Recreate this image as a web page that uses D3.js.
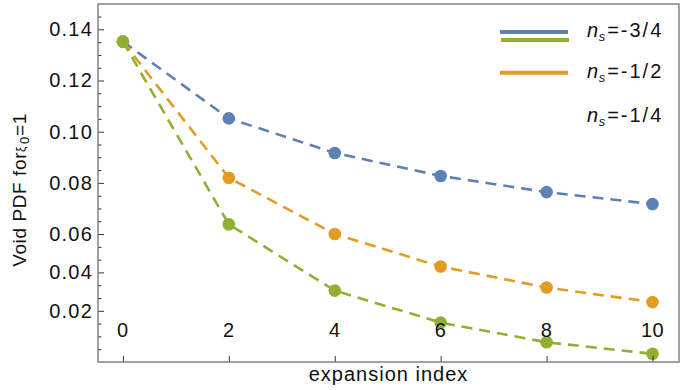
<!DOCTYPE html>
<html>
<head>
<meta charset="utf-8">
<script src="https://cdn.jsdelivr.net/npm/d3@7"></script>
<style>
  body { margin: 0; background: #fff; }
  svg { display: block; font-family: "Liberation Sans", Arial, sans-serif; }
</style>
</head>
<body>
<svg id="chart" width="692" height="390"></svg>
<script>
"use strict";

// expansion index on the x axis
const index = [0, 2, 4, 6, 8, 10];

// void PDF values, one array per n_s
const blueVals   = [0.1352, 0.1052, 0.0917, 0.0827, 0.0764, 0.0717];
const orangeVals = [0.1352, 0.0820, 0.0600, 0.0473, 0.0391, 0.0334];
const greenVals  = [0.1352, 0.0638, 0.0379, 0.0254, 0.0177, 0.0132];

// y ticks as they stand on the figure (labels do not follow a linear spacing below 0.06)
const yTickVals   = [0.14, 0.12, 0.10, 0.08, 0.06, 0.045, 0.03];
const yTickLabels = ["0.14", "0.12", "0.10", "0.08", "0.06", "0.04", "0.02"];
const xTickVals   = [0, 2, 4, 6, 8, 10];

const legendLabels = ["-3/4", "-1/2", "-1/4"];

const colors = {blue: "#5e81b5", orange: "#e19c24", green: "#8fb032"};

let svg = d3.select("#chart");

let mLeft = 98, mRight = 679, mTop = 4, mBottom = 362;

let x = d3.scaleLinear()
          .domain([-0.47, 10.5])
          .range([mLeft, mRight]);
let y = d3.scaleLinear()
          .domain([0.010, 0.1499])
          .range([mBottom, mTop]);

/**
 * Draw one dashed series with its points
 */
function drawSeries(vals, color)
{
    let pts = index.map((d, i) => [d, vals[i]]);
    let line = d3.line()
                 .x((d) => x(d[0]))
                 .y((d) => y(d[1]));

    svg.append("path")
       .datum(pts)
       .attr("d", line)
       .attr("fill", "none")
       .attr("stroke", color)
       .attr("stroke-width", 2.6)
       .attr("stroke-dasharray", "11,7");

    svg.append("g")
       .selectAll("circle")
       .data(pts)
       .join("circle")
       .attr("cx", (d) => x(d[0]))
       .attr("cy", (d) => y(d[1]))
       .attr("r", 6.3)
       .attr("fill", color);
}

drawSeries(blueVals, colors.blue);
drawSeries(orangeVals, colors.orange);
drawSeries(greenVals, colors.green);

// minor y ticks every 0.005
let minor = d3.range(0.015, 0.1451, 0.005).filter((v) => !yTickVals.some((t) => Math.abs(t - v) < 1e-6));

let yAxis = d3.axisLeft(y)
              .tickValues(yTickVals)
              .tickFormat((d, i) => yTickLabels[i])
              .tickSize(-6)
              .tickPadding(5);
let yg = svg.append("g")
            .attr("transform", "translate(" + mLeft + ",0)")
            .call(yAxis);
yg.select(".domain").remove();
yg.selectAll("line").attr("stroke", "#333").attr("stroke-width", 1);
yg.selectAll("text")
  .attr("font-size", 20)
  .attr("letter-spacing", 1.2)
  .attr("fill", "#111")
  .attr("font-family", "Liberation Sans, Arial, sans-serif");

let ym = svg.append("g")
            .attr("transform", "translate(" + mLeft + ",0)")
            .call(d3.axisLeft(y).tickValues(minor).tickSize(-3.5).tickFormat(""));
ym.select(".domain").remove();
ym.selectAll("line").attr("stroke", "#333").attr("stroke-width", 1);

// bottom ticks without labels
let xg = svg.append("g")
            .attr("transform", "translate(0," + mBottom + ")")
            .call(d3.axisBottom(x).tickValues(xTickVals).tickSize(-6).tickFormat(""));
xg.select(".domain").remove();
xg.selectAll("line").attr("stroke", "#333").attr("stroke-width", 1);

// x tick labels sit inside the frame
svg.append("g")
   .selectAll("text")
   .data(xTickVals)
   .join("text")
   .attr("x", (d) => x(d))
   .attr("y", 337)
   .attr("text-anchor", "middle")
   .attr("font-size", 20)
   .attr("letter-spacing", 0.5)
   .attr("fill", "#111")
   .text((d) => d);

// frame
svg.append("rect")
   .attr("x", mLeft)
   .attr("y", mTop)
   .attr("width", mRight - mLeft)
   .attr("height", mBottom - mTop)
   .attr("fill", "none")
   .attr("stroke", "#7a7a7a")
   .attr("stroke-width", 1.4);

// axis titles
svg.append("text")
   .attr("x", (mLeft + mRight) / 2)
   .attr("y", 381)
   .attr("text-anchor", "middle")
   .attr("font-size", 20)
   .attr("letter-spacing", 1)
   .attr("fill", "#111")
   .text("expansion index");

let yl = svg.append("text")
            .attr("transform", "translate(26,190) rotate(-90)")
            .attr("text-anchor", "middle")
            .attr("font-size", 19)
            .attr("letter-spacing", 0.6)
            .attr("fill", "#111");
yl.append("tspan").text("Void PDF for");
yl.append("tspan").attr("font-size", 12).attr("dy", -1).text("\u03be");
yl.append("tspan").attr("font-size", 13).attr("dy", 4).attr("dx", 2).text("0");
yl.append("tspan").attr("dy", -3).text("=1");

// legend, kept as it is drawn on the figure
let legendLines = [
    {color: colors.blue, x0: 500, x1: 568, yy: 32},
    {color: colors.green, x0: 501, x1: 569, yy: 40},
    {color: colors.orange, x0: 500, x1: 568, yy: 72.7}
];
svg.append("g")
   .selectAll("line")
   .data(legendLines)
   .join("line")
   .attr("x1", (d) => d.x0)
   .attr("x2", (d) => d.x1)
   .attr("y1", (d) => d.yy)
   .attr("y2", (d) => d.yy)
   .attr("stroke", (d) => d.color)
   .attr("stroke-width", 4);

let legendBase = [37, 78, 122];
legendLabels.forEach((lab, i) =>
{
    let t = svg.append("text")
               .attr("x", 587)
               .attr("y", legendBase[i])
               .attr("font-size", 20)
               .attr("letter-spacing", 2)
               .attr("fill", "#111");
    t.append("tspan").attr("font-style", "italic").attr("letter-spacing", 0.5).text("n");
    t.append("tspan").attr("font-style", "italic").attr("font-size", 13).attr("dy", 4).text("s");
    t.append("tspan").attr("dy", -4).text("=" + lab);
});
</script>
</body>
</html>
